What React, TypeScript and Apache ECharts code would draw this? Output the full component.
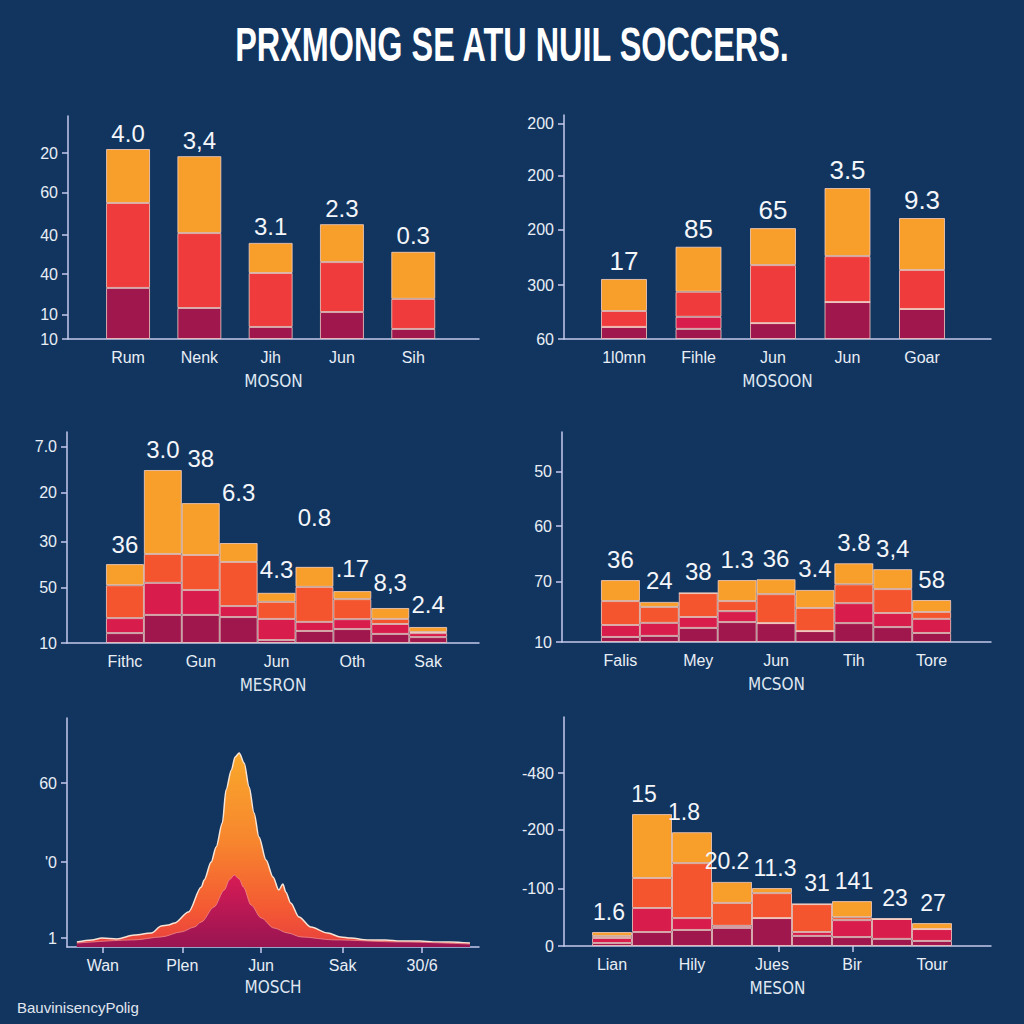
import React, { useEffect, useRef } from 'react';
import * as echarts from 'echarts';

// ---------- texts ----------
const TITLE = 'PRXMONG SE ATU NUIL SOCCERS.';
const FOOTER = 'BauvinisencyPolig';

// ---------- panel 1 (top-left) ----------
const p1Categories = ['Rum', 'Nenk', 'Jih', 'Jun', 'Sih'];
const p1Maroon = [22.9, 13.9, 5.4, 12.1, 4.5];
const p1Red = [38.1, 33.6, 24.2, 22.4, 13.5];
const p1Orange = [24.2, 34.5, 13.5, 17.0, 21.1];
const p1Labels = ['4.0', '3,4', '3.1', '2.3', '0.3'];
const p1TickValues = [0, 10.8, 29.1, 46.6, 65.5, 83.4];
const p1TickLabels = ['10', '10', '40', '40', '60', '20'];

// ---------- panel 2 (top-right) ----------
const p2Categories = ['1l0mn', 'Fihle', 'Jun', 'Jun', 'Goar'];
const p2Maroon = [5.4, 4.5, 7.1, 16.5, 13.4];
const p2Crimson = [0, 5.4, 0, 0, 0];
const p2Red = [7.1, 11.2, 25.9, 20.5, 17.4];
const p2Orange = [14.3, 20.1, 16.5, 30.4, 23.2];
const p2Labels = ['17', '85', '65', '3.5', '9.3'];
const p2TickValues = [0, 24.1, 48.7, 72.8, 96.0];
const p2TickLabels = ['60', '300', '200', '200', '200'];

// ---------- panel 3 (middle-left) ----------
const p3Categories = ['Fithc', '', 'Gun', '', 'Jun', '', 'Oth', '', 'Sak'];
const p3Maroon = [4.7, 13.3, 13.3, 12.3, 1.4, 5.7, 6.6, 4.3, 2.8];
const p3Crimson = [7.1, 15.2, 11.8, 5.2, 10.0, 4.3, 4.7, 4.7, 1.9];
const p3Red = [15.6, 13.7, 16.6, 20.9, 8.1, 16.6, 9.5, 2.4, 0.5];
const p3Orange = [10.0, 39.8, 24.6, 9.0, 4.3, 9.5, 3.8, 5.2, 2.4];
const p3Labels = ['36', '3.0', '38', '6.3', '4.3', '0.8', '.17', '8,3', '2.4'];
const p3TickValues = [0, 26.1, 47.9, 71.1, 92.9];
const p3TickLabels = ['10', '50', '30', '20', '7.0'];

// ---------- panel 4 (middle-right) ----------
const p4Categories = ['Falis', '', 'Mey', '', 'Jun', '', 'Tih', '', 'Tore'];
const p4Maroon = [2.4, 2.9, 6.7, 9.5, 9.0, 5.2, 9.0, 7.1, 4.3];
const p4Crimson = [5.7, 6.2, 5.2, 5.2, 0, 0, 9.5, 6.7, 6.7];
const p4Red = [11.4, 7.6, 11.4, 4.8, 13.8, 11.0, 9.0, 11.4, 3.3];
const p4Orange = [10.0, 2.4, 0, 10.0, 7.1, 8.6, 10.0, 9.5, 5.7];
const p4Labels = ['36', '24', '38', '1.3', '36', '3.4', '3.8', '3,4', '58'];
const p4TickValues = [0, 28.6, 55.2, 81.0];
const p4TickLabels = ['10', '70', '60', '50'];

// ---------- panel 5 (bottom-left, area) ----------
const p5TotalX = [2.4, 6.0, 8.5, 12.1, 16.4, 20.5, 22.9, 24.6, 26.1, 29.5, 32.6, 33.3, 35.0, 36.2, 37.7, 38.6, 39.9, 40.8, 41.8, 43.0, 44.2, 45.4, 46.6, 48.3, 50.0, 51.4, 52.4, 53.1, 54.3, 56.3, 59.2, 63.3, 66.4, 68.8, 72.9, 77.3, 80.9, 85.7, 88.9, 93.0, 97.8];
const p5Total = [2.2, 3.1, 3.9, 3.5, 5.2, 6.1, 9.2, 9.6, 10.5, 15.3, 26.2, 29.3, 37.1, 43.7, 54.1, 68.6, 77.3, 83.0, 84.7, 80.3, 69.9, 58.5, 48.0, 38.0, 30.6, 24.9, 27.5, 24.0, 19.2, 13.1, 8.7, 6.1, 4.4, 3.9, 3.1, 3.1, 2.6, 2.6, 2.2, 2.2, 1.7];
const p5InnerX = [2.4, 16.4, 22.9, 27.8, 30.9, 32.6, 35.7, 38.2, 39.4, 40.6, 41.8, 42.8, 44.7, 47.1, 50.2, 53.6, 56.8, 64.7, 80.9, 97.8];
const p5Inner = [1.7, 3.1, 4.4, 6.6, 8.7, 10.9, 17.5, 24.9, 29.3, 31.4, 29.7, 26.2, 18.3, 12.7, 8.3, 6.1, 4.4, 3.1, 2.2, 1.3];
const p5XTickValues = [8.7, 28.0, 47.1, 66.9, 86.2];
const p5XTickLabels = ['Wan', 'Plen', 'Jun', 'Sak', '30/6'];
const p5YTickValues = [3.9, 37.1, 71.6];
const p5YTickLabels = ['1', "'0", '60'];

// ---------- panel 6 (bottom-right) ----------
const p6Categories = ['Lian', '', 'Hily', '', 'Jues', '', 'Bir', '', 'Tour'];
const p6Maroon = [1.3, 6.1, 7.0, 7.9, 12.2, 4.4, 3.9, 3.1, 2.2];
const p6Crimson = [2.2, 10.5, 5.2, 0.9, 0, 1.7, 7.4, 8.7, 5.2];
const p6Red = [0.9, 13.1, 24.0, 10.0, 10.9, 12.2, 1.3, 0, 0];
const p6Orange = [1.7, 27.9, 13.5, 9.2, 2.2, 0, 7.0, 0, 2.6];
const p6Labels = ['1.6', '15', '1.8', '20.2', '11.3', '31', '141', '23', '27'];
const p6TickValues = [0, 24.9, 50.7, 75.5];
const p6TickLabels = ['0', '-100', '-200', '-480'];
const p6XTickValues = [0.504, 0.677];

// ---------- styles ----------
const BG = '#11355f';
const AXIS_COLOR = '#c4c9ec';
const TEXT_COLOR = '#e9eef6';
const FONT = "'Liberation Sans', Arial, sans-serif";
const NARROW = "'Liberation Sans Narrow', 'DejaVu Sans Condensed', 'Liberation Sans', sans-serif";
const ORANGE = '#f89e2b';
const ORANGE_RED = '#f4552f';
const RED = '#ef3b3c';
const CRIMSON = '#d81c4c';
const MAROON = '#a0174e';
const BAR_BORDER = 'rgba(255,214,200,0.75)';

function lookup(values: number[], labels: string[]) {
  return (v: number) => {
    for (let i = 0; i < values.length; i++) {
      if (Math.abs(values[i] - v) < 1e-6) return labels[i];
    }
    return '';
  };
}

type Stack = { data: number[]; color: string };
type Box = { left: number; top: number; width: number; height: number };
type BarPanel = {
  frame: Box; // axis frame
  bandLeft: number; // where the first category band starts
  bandWidth: number;
  barWidth: number;
  categories: string[];
  stacks: Stack[];
  labels: string[];
  labelSize: number;
  labelDistance: number | number[];
  labelShift?: number[];
  yTicks: number[];
  yTickLabels: string[];
  axisName: string;
  xTicks?: number[];
};

function buildOption() {
  const grid: any[] = [];
  const xAxis: any[] = [];
  const yAxis: any[] = [];
  const series: any[] = [];

  const lineStyle = { color: AXIS_COLOR, width: 1.5 };
  const labelStyle = { color: TEXT_COLOR, fontSize: 16, fontFamily: FONT };
  const nameStyle = { color: '#dfe6f0', fontSize: 17, fontFamily: NARROW };

  const frameY = (idx: number, ticks: number[], labels: string[]) => ({
    type: 'value',
    gridIndex: idx,
    min: 0,
    max: 100,
    axisLine: { show: true, onZero: false, lineStyle },
    axisTick: { show: true, customValues: ticks, length: 6, lineStyle },
    axisLabel: { ...labelStyle, customValues: ticks, margin: 10, formatter: lookup(ticks, labels) },
    splitLine: { show: false },
  });

  const barPanels: BarPanel[] = [
    {
      frame: { left: 68, top: 116, width: 411, height: 223 },
      bandLeft: 92.4, bandWidth: 71.3, barWidth: 44,
      categories: p1Categories,
      stacks: [
        { data: p1Maroon, color: MAROON },
        { data: p1Red, color: RED },
        { data: p1Orange, color: ORANGE },
      ],
      labels: p1Labels, labelSize: 24, labelDistance: 4,
      yTicks: p1TickValues, yTickLabels: p1TickLabels, axisName: 'MOSON',
    },
    {
      frame: { left: 564, top: 115, width: 427, height: 224 },
      bandLeft: 586.75, bandWidth: 74.5, barWidth: 46,
      categories: p2Categories,
      stacks: [
        { data: p2Maroon, color: MAROON },
        { data: p2Crimson, color: CRIMSON },
        { data: p2Red, color: RED },
        { data: p2Orange, color: ORANGE },
      ],
      labels: p2Labels, labelSize: 26, labelDistance: 5,
      yTicks: p2TickValues, yTickLabels: p2TickLabels, axisName: 'MOSOON',
    },
    {
      frame: { left: 67, top: 432, width: 412, height: 211 },
      bandLeft: 106, bandWidth: 37.9, barWidth: 38,
      categories: p3Categories,
      stacks: [
        { data: p3Maroon, color: MAROON },
        { data: p3Crimson, color: CRIMSON },
        { data: p3Red, color: ORANGE_RED },
        { data: p3Orange, color: ORANGE },
      ],
      labels: p3Labels, labelSize: 24, labelDistance: [8, 8, 33, 38, 11, 37, 11, 13, 10],
      yTicks: p3TickValues, yTickLabels: p3TickLabels, axisName: 'MESRON',
    },
    {
      frame: { left: 562, top: 432, width: 429, height: 210 },
      bandLeft: 601, bandWidth: 38.9, barWidth: 39,
      categories: p4Categories,
      stacks: [
        { data: p4Maroon, color: MAROON },
        { data: p4Crimson, color: CRIMSON },
        { data: p4Red, color: ORANGE_RED },
        { data: p4Orange, color: ORANGE },
      ],
      labels: p4Labels, labelSize: 24, labelDistance: 9,
      yTicks: p4TickValues, yTickLabels: p4TickLabels, axisName: 'MCSON',
    },
    {
      frame: { left: 564, top: 717, width: 427, height: 229 },
      bandLeft: 592, bandWidth: 40, barWidth: 40,
      categories: p6Categories,
      stacks: [
        { data: p6Maroon, color: MAROON },
        { data: p6Crimson, color: CRIMSON },
        { data: p6Red, color: ORANGE_RED },
        { data: p6Orange, color: ORANGE },
      ],
      labels: p6Labels, labelSize: 23, labelDistance: 9,
      labelShift: [-3, -8, -8, -5, 3, 5, 2, 3, 1],
      yTicks: p6TickValues, yTickLabels: p6TickLabels, axisName: 'MESON',
      xTicks: p6XTickValues,
    },
  ];

  barPanels.forEach((p, k) => {
    // frame grid: axis lines, y ticks/labels, axis name
    const fi = grid.length;
    grid.push({ ...p.frame });
    xAxis.push({
      type: 'value',
      gridIndex: fi,
      min: 0,
      max: 1,
      axisLine: { show: true, onZero: false, lineStyle },
      axisTick: p.xTicks
        ? { show: true, customValues: p.xTicks, length: 6, lineStyle }
        : { show: false },
      axisLabel: { show: false },
      splitLine: { show: false },
      name: p.axisName,
      nameLocation: 'middle',
      nameGap: 33,
      nameTextStyle: nameStyle,
    });
    yAxis.push(frameY(fi, p.yTicks, p.yTickLabels));

    // band grid: categories and bars
    const bi = grid.length;
    grid.push({
      left: p.bandLeft,
      top: p.frame.top,
      width: p.bandWidth * p.categories.length,
      height: p.frame.height,
    });
    xAxis.push({
      type: 'category',
      gridIndex: bi,
      data: p.categories,
      boundaryGap: true,
      axisLine: { show: false },
      axisTick: { show: false },
      axisLabel: { ...labelStyle, interval: 0, margin: 10 },
      splitLine: { show: false },
    });
    yAxis.push({ type: 'value', gridIndex: bi, min: 0, max: 100, show: false });

    p.stacks.forEach((s, si) => {
      const isTop = si === p.stacks.length - 1;
      series.push({
        type: 'bar',
        xAxisIndex: bi,
        yAxisIndex: bi,
        stack: 'panel' + k,
        barWidth: p.barWidth,
        silent: true,
        itemStyle: { color: s.color, borderColor: BAR_BORDER, borderWidth: 1 },
        data: s.data.map((v, i) => {
          if (!isTop) return v;
          const lab: any = {};
          if (Array.isArray(p.labelDistance)) lab.distance = p.labelDistance[i];
          if (p.labelShift) lab.offset = [p.labelShift[i], 0];
          return { value: v, label: lab };
        }),
        label: isTop
          ? {
              show: true,
              position: 'top',
              distance: Array.isArray(p.labelDistance) ? 8 : p.labelDistance,
              color: '#f4f6fa',
              fontSize: p.labelSize,
              fontFamily: FONT,
              formatter: (prm: any) => p.labels[prm.dataIndex],
            }
          : { show: false },
      });
    });
  });

  // panel 5 (area)
  const g5 = grid.length;
  grid.push({ left: 67, top: 718, width: 412, height: 229 });
  xAxis.push({
    type: 'value',
    gridIndex: g5,
    min: 0,
    max: 100,
    axisLine: { show: true, onZero: false, lineStyle },
    axisTick: { show: true, customValues: p5XTickValues, length: 6, lineStyle },
    axisLabel: { ...labelStyle, customValues: p5XTickValues, margin: 10, formatter: lookup(p5XTickValues, p5XTickLabels) },
    splitLine: { show: false },
    name: 'MOSCH',
    nameLocation: 'middle',
    nameGap: 31,
    nameTextStyle: nameStyle,
  });
  yAxis.push(frameY(g5, p5YTickValues, p5YTickLabels));

  series.push({
    type: 'line',
    xAxisIndex: g5,
    yAxisIndex: g5,
    silent: true,
    symbol: 'none',
    smooth: 0.3,
    smoothMonotone: 'x',
    data: p5TotalX.map((x, i) => [x, p5Total[i]]),
    lineStyle: { color: '#f6e4d6', width: 1.5 },
    areaStyle: {
      opacity: 1,
      color: new echarts.graphic.LinearGradient(0, 0, 0, 1, [
        { offset: 0, color: '#f9a82b' },
        { offset: 0.45, color: '#f7862e' },
        { offset: 0.8, color: '#f45a33' },
        { offset: 1, color: '#e8403e' },
      ]),
    },
    z: 2,
  });
  series.push({
    type: 'line',
    xAxisIndex: g5,
    yAxisIndex: g5,
    silent: true,
    symbol: 'none',
    smooth: 0.3,
    smoothMonotone: 'x',
    data: p5InnerX.map((x, i) => [x, p5Inner[i]]),
    lineStyle: { color: 'rgba(240,150,150,0.7)', width: 1 },
    areaStyle: {
      opacity: 1,
      color: new echarts.graphic.LinearGradient(0, 0, 0, 1, [
        { offset: 0, color: '#d81b55' },
        { offset: 1, color: '#981552' },
      ]),
    },
    z: 3,
  });

  const graphic = [
    {
      type: 'text',
      x: 512,
      y: 45,
      scaleX: 0.675,
      silent: true,
      style: {
        text: TITLE,
        fill: '#ffffff',
        font: "bold 48px 'Liberation Sans', Arial, sans-serif",
        textAlign: 'center',
        textVerticalAlign: 'middle',
        align: 'center',
        verticalAlign: 'middle',
        shadowColor: 'rgba(0,0,0,0.45)',
        shadowBlur: 4,
        shadowOffsetY: 2,
      },
    },
    {
      type: 'text',
      x: 17,
      y: 1007,
      silent: true,
      style: {
        text: FOOTER,
        fill: '#e0e6ee',
        font: "15px 'Liberation Sans', Arial, sans-serif",
        textAlign: 'left',
        textVerticalAlign: 'middle',
        align: 'left',
        verticalAlign: 'middle',
      },
    },
  ];

  return {
    animation: false,
    backgroundColor: BG,
    grid,
    xAxis,
    yAxis,
    series,
    graphic,
  };
}

export default function App() {
  const ref = useRef<HTMLDivElement>(null);
  useEffect(() => {
    if (!ref.current) return;
    const chart = echarts.init(ref.current, undefined, { renderer: 'svg', width: 1024, height: 1024 });
    chart.setOption(buildOption() as any);
    return () => chart.dispose();
  }, []);
  return (
    <div
      ref={ref}
      style={{ position: 'fixed', left: 0, top: 0, width: 1024, height: 1024, background: BG }}
    />
  );
}
